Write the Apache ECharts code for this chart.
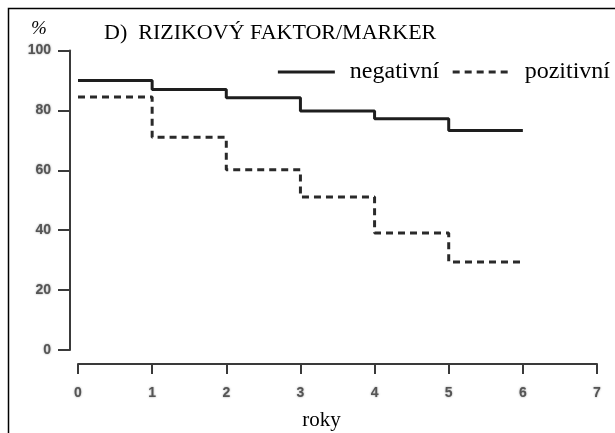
<!DOCTYPE html>
<html>
<head>
<meta charset="utf-8">
<script src="https://cdn.jsdelivr.net/npm/echarts@6/dist/echarts.min.js"></script>
<style>
  html, body { margin: 0; padding: 0; background: #fff; }
  #chart { width: 615px; height: 433px; }
</style>
</head>
<body>
<div id="chart"></div>
<script>
// Survival by risk factor / marker status (Kaplan–Meier style step curves)
const years = [0, 1, 2, 3, 4, 5, 6];
const negativni = [90, 87, 84.2, 79.8, 77.2, 73.3, 73.3];
const pozitivni = [84.5, 71, 60.2, 51.1, 39.1, 29.4, 29.4];
const xTicks = [0, 1, 2, 3, 4, 5, 6, 7];
const yTicks = [0, 20, 40, 60, 80, 100];

const serif = '"Liberation Serif", "Times New Roman", serif';
const sans = '"Liberation Sans", Arial, sans-serif';

function pairs(xs, ys) {
  return xs.map((x, i) => [x, ys[i]]);
}

const tickLabel = {
  fontFamily: sans,
  fontWeight: 'bold',
  fontSize: 14,
  color: '#555',
  textShadowColor: 'rgba(80,80,80,0.6)',
  textShadowBlur: 2
};

const chart = echarts.init(document.getElementById('chart'), null, { renderer: 'canvas' });

chart.setOption({
  animation: false,
  backgroundColor: '#ffffff',
  title: {
    text: 'D)  RIZIKOVÝ FAKTOR/MARKER',
    left: 104,
    top: 22,
    padding: 0,
    textStyle: { fontFamily: serif, fontSize: 22, fontWeight: 'normal', color: '#000' }
  },
  legend: {
    data: ['negativní', 'pozitivní'],
    right: 5,
    top: 60,
    padding: 0,
    itemWidth: 57,
    itemHeight: 12,
    itemGap: 12,
    itemStyle: { opacity: 0 },
    lineStyle: { width: 3 },
    textStyle: { fontFamily: serif, fontSize: 24, color: '#000', padding: [0, 0, 0, 10] }
  },
  grid: {
    left: 78,
    right: 18,
    top: 50.5,
    bottom: 83,
    containLabel: false,
    outerBoundsMode: 'none'
  },
  xAxis: {
    type: 'value',
    min: xTicks[0],
    max: xTicks[xTicks.length - 1],
    interval: 1,
    offset: 14,
    name: 'roky',
    nameLocation: 'middle',
    nameGap: 46,
    nameTextStyle: { fontFamily: serif, fontSize: 21, color: '#000', padding: [0, 32, 0, 0] },
    axisLine: { show: true, onZero: false, lineStyle: { color: '#3a3a3a', width: 2 } },
    axisTick: { show: true, length: 10, lineStyle: { color: '#3a3a3a', width: 2 } },
    axisLabel: Object.assign({ margin: 22 }, tickLabel),
    splitLine: { show: false }
  },
  yAxis: {
    type: 'value',
    min: yTicks[0],
    max: yTicks[yTicks.length - 1],
    interval: 20,
    offset: 8,
    name: '%',
    nameLocation: 'end',
    nameGap: 12,
    nameTextStyle: { fontFamily: serif, fontStyle: 'italic', fontSize: 19, color: '#000', align: 'center', padding: [0, 62, 0, 0] },
    axisLine: { show: true, onZero: false, lineStyle: { color: '#3a3a3a', width: 2 } },
    axisTick: { show: true, length: 12, lineStyle: { color: '#3a3a3a', width: 2 } },
    axisLabel: Object.assign({ margin: 19 }, tickLabel),
    splitLine: { show: false }
  },
  series: [
    {
      name: 'negativní',
      type: 'line',
      step: 'end',
      symbol: 'none',
      data: pairs(years, negativni),
      lineStyle: { color: '#1e1e1e', width: 3, type: 'solid' },
      itemStyle: { color: '#1e1e1e' }
    },
    {
      name: 'pozitivní',
      type: 'line',
      step: 'end',
      symbol: 'none',
      data: pairs(years, pozitivni),
      lineStyle: { color: '#2a2a2a', width: 3, type: [7, 5] },
      itemStyle: { color: '#2a2a2a' }
    }
  ],
  graphic: [
    {
      type: 'polyline',
      silent: true,
      shape: { points: [[8.5, 433], [8.5, 8.5], [615, 8.5]] },
      style: { stroke: '#000', lineWidth: 1.5, fill: null }
    }
  ]
});
</script>
</body>
</html>
